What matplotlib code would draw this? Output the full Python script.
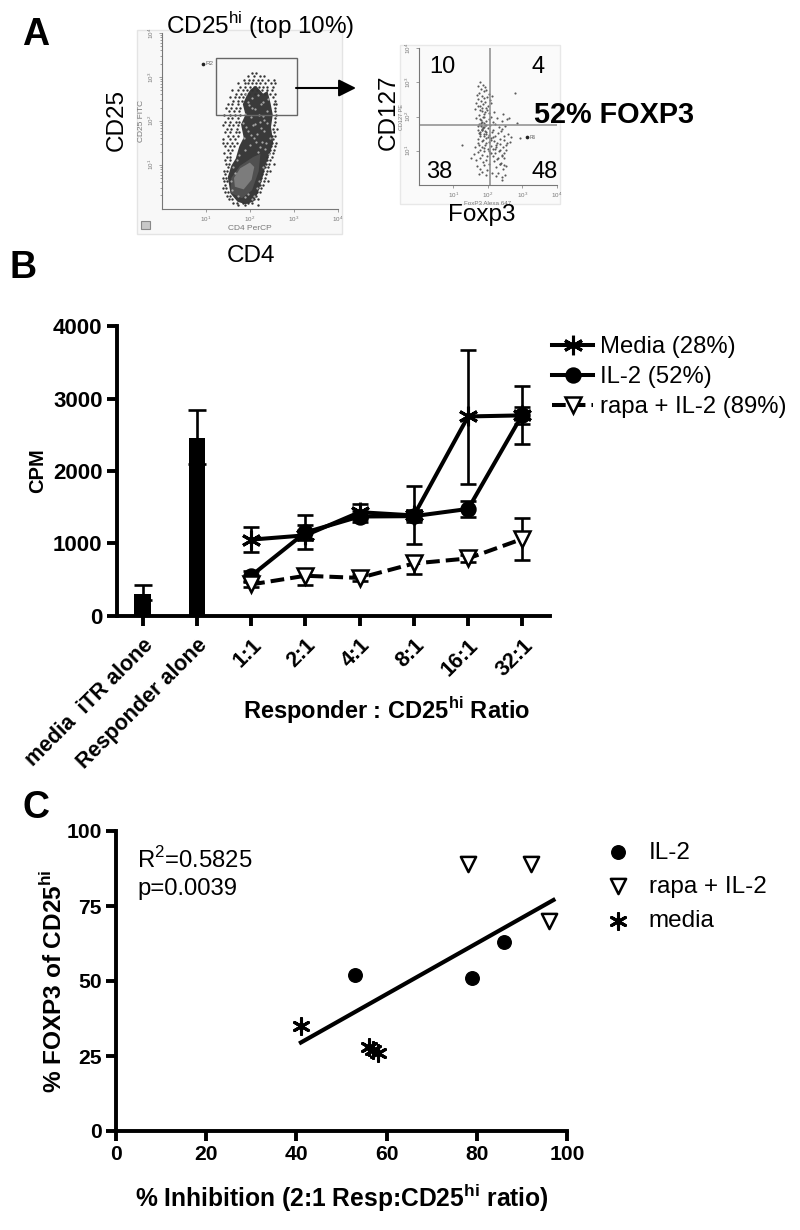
import numpy as np
import matplotlib
matplotlib.use("Agg")
import matplotlib.pyplot as plt
from matplotlib.patches import Rectangle, Polygon

plt.rcParams['font.family'] = ['Liberation Sans', 'DejaVu Sans']
plt.rcParams['mathtext.fontset'] = 'custom'
plt.rcParams['mathtext.rm'] = 'Liberation Sans'
plt.rcParams['mathtext.bf'] = 'Liberation Sans:bold'

# ---------- Panel B data
bar_labels = ['media  iTR alone', 'Responder alone']
bar_values = [300, 2460]
bar_low = [208, 2095]
bar_high = [420, 2850]
ratios = ['1:1', '2:1', '4:1', '8:1', '16:1', '32:1']
media = [1050, 1110, 1430, 1385, 2755, 2770]
media_low = [880, 915, 1330, 985, 1825, 2370]
media_high = [1220, 1385, 1550, 1790, 3670, 3180]
il2 = [550, 1150, 1370, 1375, 1475, 2780]
il2_low = [480, 1050, 1300, 1290, 1365, 2650]
il2_high = [620, 1250, 1440, 1460, 1585, 2880]
rapa = [430, 550, 520, 720, 790, 1060]
rapa_low = [390, 425, 480, 570, 740, 775]
rapa_high = [470, 650, 560, 820, 840, 1355]

# ---------- Panel C data
c_il2_x = [53, 79, 86]
c_il2_y = [52, 51, 63]
c_rapa_x = [78, 92, 96]
c_rapa_y = [89, 89, 70]
c_media_x = [41, 56, 57, 58]
c_media_y = [35, 28, 27, 26]
fit_x = [41, 97]
fit_y = [29.5, 77]

# ---------- Panel A data (log10 decades)
band_x = [2.02, 2.14, 2.30, 2.40, 2.47, 2.52, 2.48, 2.53, 2.44, 2.36, 2.30, 2.18, 2.08, 1.90, 1.72, 1.56, 1.50, 1.58,
          1.68, 1.76, 1.86, 1.80, 1.90, 1.84, 1.94]
band_y = [2.72, 2.80, 2.62, 2.68, 2.40, 2.14, 1.86, 1.50, 1.22, 1.00, 0.75, 0.35, 0.16, 0.10, 0.16, 0.35, 0.72, 0.98,
          1.14, 1.42, 1.62, 1.92, 2.14, 2.38, 2.60]
core_x = [1.56, 1.82, 2.05, 2.20, 2.24, 2.08, 1.78, 1.58]
core_y = [0.36, 0.24, 0.42, 0.85, 1.25, 1.18, 0.98, 0.70]
glow_x = [1.66, 1.86, 2.04, 2.10, 2.00, 1.78, 1.64]
glow_y = [0.50, 0.44, 0.66, 0.95, 1.05, 0.92, 0.70]

row_y = [3.10, 3.02, 2.94, 2.86, 2.78, 2.70, 2.62, 2.54, 2.46, 2.38, 2.30, 2.22, 2.14, 2.06, 1.98, 1.90,
         1.82, 1.74, 1.66, 1.58, 1.50, 1.42, 1.34, 1.26, 1.18, 1.10, 1.02, 0.94, 0.86, 0.78, 0.70, 0.62,
         0.54, 0.46, 0.38, 0.30, 0.22, 0.14, 0.08]
row_x = [
    [2.05, 2.15],
    [1.95, 2.10, 2.22, 2.31],
    [1.86, 1.98, 2.08, 2.18, 2.27, 2.42, 2.55],
    [1.72, 1.88, 1.96, 2.04, 2.14, 2.24, 2.34, 2.47, 2.58],
    [1.78, 1.90, 2.00, 2.10, 2.20, 2.30, 2.40, 2.52],
    [1.60, 1.74, 1.84, 1.94, 2.06, 2.16, 2.28, 2.38, 2.50],
    [1.68, 1.80, 1.90, 1.98, 2.12, 2.22, 2.34, 2.46, 2.56],
    [1.55, 1.66, 1.76, 1.84, 2.52],
    [1.62, 1.72, 1.82, 2.56],
    [1.50, 1.60, 1.74, 2.54, 2.60],
    [1.46, 1.58, 1.68, 1.78, 2.58],
    [1.52, 1.64, 1.76, 2.56],
    [1.42, 1.56, 1.66, 1.78, 2.60],
    [1.50, 1.60, 1.72, 2.56],
    [1.44, 1.54, 1.68, 1.76, 2.58],
    [1.40, 1.52, 1.62, 1.74, 2.54],
    [1.48, 1.58, 1.70, 2.52, 2.62],
    [1.44, 1.56, 1.68, 1.76, 2.54],
    [1.50, 1.62, 1.72, 2.50, 2.58],
    [1.40, 1.54, 1.66, 2.52],
    [1.38, 1.48, 1.60, 1.70, 2.50, 2.60],
    [1.44, 1.56, 1.64, 2.48, 2.56],
    [1.50, 1.60, 2.46, 2.54],
    [1.42, 1.54, 2.44, 2.52],
    [1.48, 1.56, 2.40, 2.50],
    [1.44, 1.54, 2.38, 2.46],
    [1.46, 1.52, 2.36, 2.44, 2.54],
    [1.50, 2.34, 2.42],
    [1.42, 1.48, 2.30, 2.38, 2.46],
    [1.44, 2.28, 2.36],
    [1.40, 1.46, 2.26, 2.34],
    [1.42, 1.48, 2.24, 2.32, 2.42],
    [1.44, 2.22, 2.30],
    [1.40, 1.46, 2.18, 2.26],
    [1.44, 1.50, 2.16, 2.24],
    [1.48, 1.54, 2.14],
    [1.52, 1.60, 2.10, 2.18],
    [1.62, 1.70, 1.84, 1.96, 2.06],
    [1.72, 1.88, 2.18],
]
speck_x = [1.92, 2.05, 2.18, 2.30, 2.42, 1.98, 2.12, 2.26, 2.38, 1.88, 2.02, 2.20, 2.33, 1.85, 2.08,
           2.25, 2.40, 1.95, 2.16, 2.32, 2.10, 2.28, 2.45, 2.00, 2.22, 2.35, 1.90, 2.44, 2.14, 1.96,
           2.30, 1.86, 2.06, 2.24, 2.36, 1.92, 2.12, 2.02, 1.76, 2.18, 1.70, 1.62, 2.20, 2.30, 1.58,
           1.60, 2.10, 1.74, 1.90, 2.16, 1.66, 1.96, 2.04]
speck_y = [2.60, 2.52, 2.58, 2.44, 2.50, 2.36, 2.28, 2.38, 2.22, 2.15, 2.08, 2.14, 2.02, 1.96, 1.90,
           1.84, 1.94, 1.76, 1.70, 1.78, 1.60, 1.52, 1.62, 1.46, 1.40, 1.36, 1.34, 1.24, 1.52, 2.44,
           2.10, 1.62, 2.30, 1.98, 1.50, 1.86, 1.92, 1.68, 1.22, 1.30, 1.12, 0.96, 0.62, 0.96, 0.62,
           0.42, 0.30, 0.30, 0.26, 0.46, 0.82, 0.34, 0.22]

q_x = [1.78, 1.85, 1.92, 1.72, 1.80, 1.88, 1.95, 2.02, 1.68, 1.75, 1.83, 1.90, 1.98, 2.05, 2.12, 1.65, 1.72, 1.79, 1.86,
       1.93, 2.00, 2.08, 1.62, 1.70, 1.77, 1.84, 1.91, 1.97, 2.04, 2.10, 2.18, 2.45, 1.66, 1.74, 1.81, 1.88, 1.95, 2.02,
       2.15, 2.28, 2.40, 2.55, 1.72, 1.79, 1.85, 1.92, 1.99, 2.06, 2.14, 2.22, 2.32, 2.42, 2.50, 1.75, 1.82, 1.90, 1.96,
       2.04, 2.12, 2.20, 2.30, 2.38, 2.48, 2.58, 1.70, 1.78, 1.86, 1.94, 2.02, 2.10, 2.18, 2.26, 2.36, 2.46, 2.56, 2.68,
       1.64, 1.74, 1.84, 1.92, 2.00, 2.08, 2.16, 2.24, 2.34, 2.44, 2.54, 2.64, 1.60, 1.72, 1.82, 1.90, 1.98, 2.06, 2.14,
       2.22, 2.32, 2.42, 2.52, 1.24, 1.50, 1.66, 1.76, 1.86, 1.96, 2.04, 2.18, 2.28, 2.38, 2.48, 1.68, 1.78, 1.88, 1.98,
       2.24, 2.34, 2.44, 2.54, 1.74, 1.84, 1.94, 2.30, 2.42, 2.50, 2.36, 2.46, 2.24, 2.12, 2.62, 2.78, 2.86, 2.92, 2.42,
       1.80, 1.84, 1.76, 1.88, 1.82, 1.92, 1.86, 1.78, 1.74, 1.80, 1.86, 1.90, 1.96, 1.70, 1.76, 1.82, 1.88, 1.94, 2.00,
       2.08, 2.16, 2.24, 2.34, 1.72, 1.78, 1.84, 1.90, 1.96, 2.02, 2.10, 2.20, 2.30, 2.40, 2.48, 1.76, 1.82, 1.88, 1.94]
q_y = [3.00, 2.92, 2.85, 2.88, 2.80, 2.74, 2.78, 2.66, 2.62, 2.70, 2.60, 2.54, 2.58, 2.48, 2.60, 2.40, 2.50, 2.44, 2.36,
       2.42, 2.30, 2.38, 2.22, 2.30, 2.18, 2.24, 2.12, 2.20, 2.10, 2.00, 2.12, 2.08, 1.96, 2.04, 1.90, 1.98, 1.86, 1.94,
       1.84, 1.96, 1.88, 1.92, 1.72, 1.80, 1.68, 1.76, 1.66, 1.74, 1.62, 1.78, 1.70, 1.64, 1.72, 1.52, 1.60, 1.48, 1.56,
       1.46, 1.54, 1.44, 1.52, 1.58, 1.42, 1.50, 1.34, 1.42, 1.30, 1.38, 1.26, 1.36, 1.28, 1.24, 1.34, 1.30, 1.22, 1.40,
       1.12, 1.18, 1.10, 1.16, 1.06, 1.14, 1.04, 1.12, 1.02, 1.10, 1.18, 1.26, 0.90, 0.96, 0.88, 0.98, 0.86, 0.94, 0.84,
       0.92, 0.98, 0.88, 1.02, 1.18, 0.78, 0.72, 0.80, 0.66, 0.74, 0.62, 0.70, 0.76, 0.64, 0.80, 0.55, 0.48, 0.58, 0.44,
       0.52, 0.62, 0.46, 0.56, 0.32, 0.38, 0.28, 0.36, 0.22, 0.30, 0.62, 0.58, 0.26, 0.34, 1.95, 2.70, 1.80, 1.36, 0.14,
       1.76, 1.84, 1.92, 1.70, 1.62, 1.58, 1.98, 1.50, 1.78, 1.72, 1.66, 1.82, 1.74, 1.60, 1.56, 1.64, 1.44, 1.50, 1.40,
       1.32, 1.40, 1.16, 1.20, 1.24, 1.02, 1.28, 1.08, 1.22, 0.98, 0.94, 1.06, 0.78, 0.86, 0.92, 2.32, 2.16, 2.08, 2.26]

PCT_10, PCT_4, PCT_38, PCT_48 = '10', '4', '38', '48'

W, H = 800, 1230
fig = plt.figure(figsize=(8, 12.3), dpi=100, facecolor='white')

def axpx(l, t, r, b, **kw):
    return fig.add_axes([l / W, 1 - b / H, (r - l) / W, (b - t) / H], **kw)

pg = axpx(0, 0, W, H)
pg.set_xlim(0, W); pg.set_ylim(H, 0); pg.axis('off')
pg.set_zorder(5)

def txt(x, y, s, size=17, weight='normal', rot=0, ha='center', color='black'):
    pg.text(x, y, s, fontsize=size, fontweight=weight, rotation=rot, ha=ha, va='center', color=color)

txt(36, 35, 'A', 27, 'bold')
txt(23, 268, 'B', 27, 'bold')
txt(36, 808, 'C', 27, 'bold')

bg = axpx(0, 0, W, H)
bg.set_xlim(0, W); bg.set_ylim(H, 0); bg.axis('off')
bg.set_zorder(0)
bg.add_patch(Rectangle((137, 30), 205, 204, fc='#f8f8f8', ec='#e4e4e4', lw=1))
bg.add_patch(Rectangle((400, 45), 160, 159, fc='#fafafa', ec='#e8e8e8', lw=1))
bg.add_patch(Rectangle((141, 221), 9, 8, fc='#c8c8c8', ec='#888888', lw=0.8))

def flow_axes(l, t, r, b):
    ax = axpx(l, t, r, b)
    ax.set_zorder(1)
    ax.patch.set_alpha(0)
    ax.set_xscale('log'); ax.set_yscale('log')
    ax.set_xlim(1, 1e4); ax.set_ylim(1, 1e4)
    for s in ['top', 'right']:
        ax.spines[s].set_visible(False)
    for s in ['left', 'bottom']:
        ax.spines[s].set_color('#777777'); ax.spines[s].set_linewidth(0.8)
    ax.set_xticks([10, 100, 1000, 10000])
    ax.set_xticklabels(['10$^1$', '10$^2$', '10$^3$', '10$^4$'], fontsize=4.5, color='#777777')
    ax.set_yticks([10, 100, 1000, 10000])
    ax.set_yticklabels(['10$^1$', '10$^2$', '10$^3$', '10$^4$'], fontsize=4.5, color='#777777', rotation=90, va='center')
    ax.tick_params(which='both', color='#777777', width=0.5, length=2.5, pad=1.5)
    ax.tick_params(which='minor', length=1.5)
    return ax

pw = lambda v: np.power(10.0, np.asarray(v))

# ---- dot plot 1
f1 = flow_axes(161.7, 33, 338, 208.7)
f1.add_patch(Polygon(np.c_[pw(band_x), pw(band_y)], fc='#3a3a3a', ec='none'))
f1.add_patch(Polygon(np.c_[pw(core_x), pw(core_y)], fc='#505050', ec='none'))
f1.add_patch(Polygon(np.c_[pw(glow_x), pw(glow_y)], fc='#7c7c7c', ec='none'))
dots_x = np.concatenate(row_x)
dots_y = np.repeat(row_y, [len(r) for r in row_x])
f1.scatter(pw(dots_x), pw(dots_y), s=3, c='#333333', lw=0)
f1.scatter(pw(speck_x), pw(speck_y), s=2.6, c='#a8a8a8', lw=0)
f1.add_patch(Rectangle((10**1.23, 10**2.13), 10**3.07 - 10**1.23, 10**3.44 - 10**2.13,
                       fc='none', ec='#666666', lw=1))
f1.scatter([10**0.93], [10**3.3], s=7, c='#222222', lw=0)
f1.text(10**1.0, 10**3.3, 'R2', fontsize=4.5, color='#666666', va='center')
f1.set_xlabel('CD4 PerCP', fontsize=6, color='#777777', labelpad=1)
f1.set_ylabel('CD25 FITC', fontsize=6, color='#777777', labelpad=1)

# ---- dot plot 2
f2 = flow_axes(419, 48, 556.7, 185)
f2.scatter(pw(q_x), pw(q_y), s=2.4, c='#5a5a5a', lw=0)
f2.axvline(10**2.05, color='#8c8c8c', lw=1.1)
f2.axhline(10**1.76, color='#8c8c8c', lw=1.1)
f2.scatter([10**3.15], [10**1.4], s=7, c='#222222', lw=0)
f2.text(10**3.22, 10**1.4, 'R6', fontsize=3.5, color='#666666', va='center')
f2.set_xlabel('FoxP3 Alexa 647', fontsize=4.5, color='#777777', labelpad=0.5)
f2.set_ylabel('CD127 PE', fontsize=4, color='#777777', labelpad=0.2)

txt(260, 26, 'CD25$^{\\mathrm{hi}}$ (top 10%)', 17.5)
txt(117, 120, 'CD25', 17.5, rot=90)
txt(251, 256, 'CD4', 17.5)
txt(389, 112, 'CD127', 17.5, rot=90)
txt(482, 215, 'Foxp3', 17.5)
txt(442, 67, PCT_10, 17)
txt(538, 67, PCT_4, 17)
txt(439, 172, PCT_38, 17)
txt(545, 172, PCT_48, 17)
txt(614, 115, '52% FOXP3', 20.8, 'bold')
pg.annotate('', xy=(356, 88), xytext=(296, 88),
            arrowprops=dict(arrowstyle='-|>,head_length=0.7,head_width=0.35', color='black', lw=1.5,
                            shrinkA=0, shrinkB=0, mutation_scale=15))

# ---------- Panel B
def style(ax, size):
    for s in ['top', 'right']:
        ax.spines[s].set_visible(False)
    for s in ['left', 'bottom']:
        ax.spines[s].set_linewidth(2.8)
    ax.tick_params(width=2.8, length=7, labelsize=size, pad=3)
    for lab in ax.get_xticklabels() + ax.get_yticklabels():
        lab.set_fontweight('bold')

axb = axpx(116.5, 326.5, 550, 615.5)
axb.set_zorder(2)
axb.patch.set_alpha(0)
axb.set_xlim(-0.483, 7.51)
axb.set_ylim(0, 4000)
bar_pos = np.arange(len(bar_values))
line_pos = np.arange(len(ratios)) + len(bar_values)
bv = np.array(bar_values)
axb.bar(bar_pos, bv, width=0.31, color='black')
axb.errorbar(bar_pos, bv, yerr=[bv - np.array(bar_low), np.array(bar_high) - bv], fmt='none',
             ecolor='black', elinewidth=1.9, capsize=6.5, capthick=1.9)

def series(vals, lo, hi, marker, ms, ls, label, mfc='black', mew=1.8, z=3):
    v = np.array(vals)
    axb.errorbar(line_pos, v, yerr=[v - np.array(lo), np.array(hi) - v], fmt='none', ecolor='black',
                 elinewidth=1.9, capsize=6, capthick=1.9, zorder=z)
    return axb.plot(line_pos, v, color='black', lw=2.9, ls=ls, marker=marker, ms=ms, mfc=mfc, mec='black',
                    mew=mew, label=label, zorder=z + 1)[0]

h1 = series(media, media_low, media_high, (6, 2, 0), 14, '-', 'Media (28%)', mew=2.2)
h2 = series(il2, il2_low, il2_high, 'o', 10, '-', 'IL-2 (52%)')
h3 = series(rapa, rapa_low, rapa_high, 'v', 11, (0, (3.4, 1.5)), 'rapa + IL-2 (89%)', mfc='white')
axb.set_xticks(np.r_[bar_pos, line_pos])
axb.set_xticklabels(bar_labels + ratios)
axb.set_yticks([0, 1000, 2000, 3000, 4000])
style(axb, 16)
axb.tick_params(axis='x', labelsize=15.5, pad=7)
for lab in axb.get_xticklabels():
    lab.set_rotation(45); lab.set_ha('right'); lab.set_rotation_mode('anchor')
axb.set_ylabel('CPM', fontsize=14.5, fontweight='bold', labelpad=4)
txt(387, 710, 'Responder : CD25$^{\\mathbf{hi}}$ Ratio', 17, 'bold')
axb.legend(handles=[h1, h2, h3], loc='upper left', bbox_to_anchor=(552 / W, 1 - 336 / H),
           bbox_transform=fig.transFigure, frameon=False, fontsize=17.2, handlelength=1.72,
           handletextpad=0.3, labelspacing=0.34, borderpad=0, borderaxespad=0)

# ---------- Panel C
axc = axpx(116, 831, 567, 1131)
axc.set_zorder(2)
axc.patch.set_alpha(0)
axc.set_xlim(0, 100); axc.set_ylim(0, 100)
axc.plot(fit_x, fit_y, color='black', lw=3)
s1 = axc.scatter(c_il2_x, c_il2_y, marker='o', s=95, c='black', label='IL-2', zorder=3)
s2 = axc.scatter(c_rapa_x, c_rapa_y, marker='v', s=120, facecolors='white', edgecolors='black', linewidths=1.8,
                 label='rapa + IL-2', zorder=3)
s3 = axc.scatter(c_media_x, c_media_y, marker=(6, 2, 0), s=130, c='black', linewidths=2.2, label='media', zorder=3)
axc.set_xticks([0, 20, 40, 60, 80, 100])
axc.set_yticks([0, 25, 50, 75, 100])
style(axc, 15.2)
axc.set_ylabel('% FOXP3 of CD25$^{\\mathbf{hi}}$', fontsize=17.6, fontweight='bold', labelpad=0)
axc.set_xlabel('% Inhibition (2:1 Resp:CD25$^{\\mathbf{hi}}$ ratio)', fontsize=17.7, fontweight='bold', labelpad=13)
axc.legend(handles=[s1, s2, s3], loc='upper left', bbox_to_anchor=(594 / W, 1 - 841.6 / H),
           bbox_transform=fig.transFigure, frameon=False, fontsize=17.5, handletextpad=0.25,
           labelspacing=0.5, borderpad=0, borderaxespad=0, scatterpoints=1)
txt(137, 860, 'R$^2$=0.5825', 17.2, ha='left')
txt(137, 889, 'p=0.0039', 17.2, ha='left')

fig.savefig('out.png', dpi=100, facecolor='white')
